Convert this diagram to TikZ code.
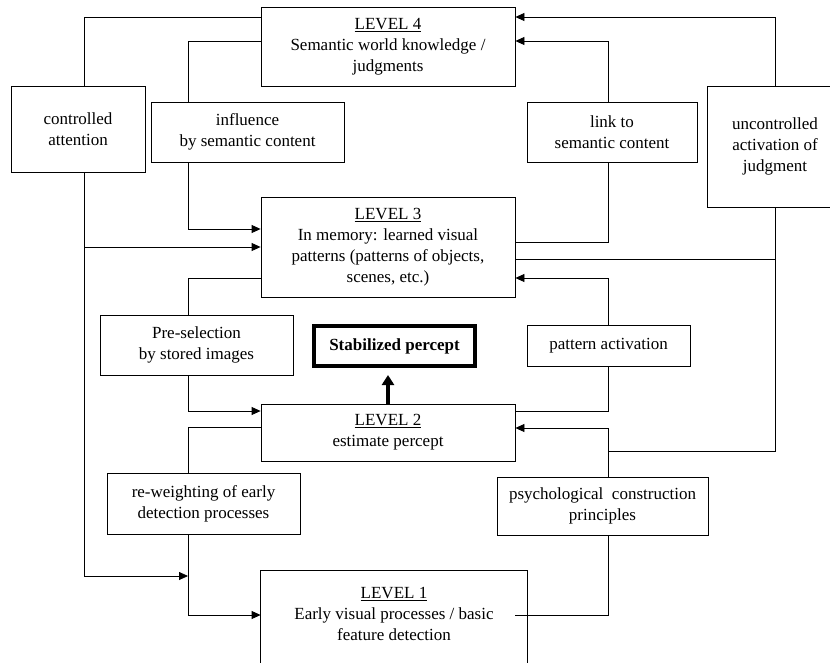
\documentclass[tikz,border=0pt]{standalone}
\usepackage{fontspec}
\setmainfont{Liberation Serif}
\usetikzlibrary{arrows.meta}
\tikzset{
  box/.style={draw, inner sep=0pt, align=center, line width=0.8pt},
  arr/.style={-{Triangle[length=9pt,width=8pt]}},
}
\begin{document}
\begin{tikzpicture}[x=1pt, y=-1pt, line width=0.8pt, font=\fontsize{17}{21}\selectfont]
            \useasboundingbox (0,0) rectangle (830,662);
            % levels
            \node[box, minimum width=254, minimum height=79] (lvlfour) at (388,46.5)
              {\underline{LEVEL 4}\\Semantic world knowledge /\\judgments};
            \node[box, minimum width=254, minimum height=100] (lvlthree) at (388,247)
              {\underline{LEVEL 3}\\In memory: learned visual\\patterns (patterns of objects,\\scenes, etc.)};
            \node[box, minimum width=254, minimum height=57] (lvltwo) at (388,432.5)
              {\underline{LEVEL 2}\\estimate percept};
            \node[align=center, inner sep=0pt, minimum width=266, minimum height=86] (lvlone) at (394,614)
              {\underline{LEVEL 1}\\Early visual processes / basic\\feature detection};
            \draw ([yshift=-20pt]lvlone.south west) -- (lvlone.north west)
              -- (lvlone.north east) -- ([yshift=-20pt]lvlone.south east);
            % side boxes
            \node[box, minimum width=134, minimum height=86] (ctrl) at (78,129) {controlled\\attention};
            \node[box, minimum width=193, minimum height=60] (infl) at (247.5,132) {influence\\by semantic content};
            \node[box, minimum width=170, minimum height=60] (link) at (612,132) {link to\\semantic content};
            \node[box, minimum width=136, minimum height=121] (unctrl) at (775,146.5) {uncontrolled\\activation of\\judgment};
            \node[box, minimum width=193, minimum height=60] (presel) at (196.5,345) {Pre-selection\\by stored images};
            \node[box, minimum width=163, minimum height=41] (patact) at (608.5,345.5) {pattern activation};
            \node[box, minimum width=193, minimum height=61] (reweigh) at (203.5,503.5) {re-weighting of early\\detection processes};
            \node[box, minimum width=211, minimum height=58] (psych) at (602.5,506) {psychological~~construction\\principles};
            \node[box, line width=4pt, minimum width=161, minimum height=40] (stab) at (394.5,346) {\bfseries Stabilized percept};
            % left side
            \draw (ctrl.north -| 84,0) |- (lvlfour.west |- 0,17);
            \draw[arr] (ctrl.south -| 84,0) |- (188,576);
            \draw[arr] (lvlthree.west -| 84,0) -- (lvlthree.west);
            \draw (infl.north -| 188,0) |- (lvlfour.west |- 0,41);
            \draw[arr] (infl.south -| 188,0) |- (lvlthree.west |- 0,229);
            \draw (presel.north -| 188,0) |- (lvlthree.west |- 0,278);
            \draw[arr] (presel.south -| 188,0) |- (lvltwo.west |- 0,411);
            \draw (lvltwo.west |- 0,427) -| (reweigh.north -| 188,0);
            \draw[arr] (reweigh.south -| 188,0) |- (lvlone.west |- 0,615);
            % right side
            \draw[arr] (link.north -| 608,0) |- (lvlfour.east |- 0,41);
            \draw (link.south -| 608,0) |- (lvlthree.east |- 0,242);
            \draw[arr] (unctrl.north) |- (lvlfour.east |- 0,17);
            \draw (unctrl.south) |- (608,451);
            \draw (lvlthree.east |- 0,259) -- (775,259);
            \draw[arr] (patact.north -| 608,0) |- (lvlthree.east |- 0,278);
            \draw (patact.south -| 608,0) |- (lvltwo.east |- 0,411);
            \draw[arr] (psych.north -| 608,0) |- (lvltwo.east |- 0,428);
            \draw (psych.south -| 608,0) |- ([xshift=-12pt]lvlone.east |- 0,615);
            % percept
            \draw[-{Triangle[length=10pt,width=12pt]}, line width=4pt, shorten >=7pt]
              (lvltwo.north) -- (lvltwo.north |- stab.south);
          \end{tikzpicture}
\end{document}
